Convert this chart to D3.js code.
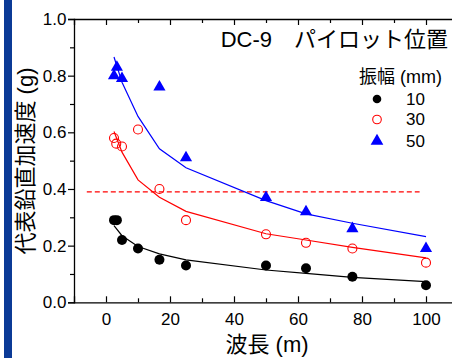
<!DOCTYPE html>
<html>
<head>
<meta charset="utf-8">
<script src="https://cdn.jsdelivr.net/npm/d3@7"></script>
<style>
  html, body { margin: 0; padding: 0; background: #fff; }
  svg { display: block; font-family: "Liberation Sans", Arial, "Noto Sans CJK JP", sans-serif; }
  .cjk { font-family: "Liberation Sans", Arial, "Noto Sans CJK JP", sans-serif; }
</style>
</head>
<body>
<svg id="chart"></svg>
<script>
// measured points (wavelength m, acceleration g)
const amp10X = [2.5, 3.4, 5, 10, 16.7, 25, 50, 62.5, 77, 100];
const amp10Y = [0.29, 0.29, 0.22, 0.19, 0.15, 0.13, 0.13, 0.12, 0.09, 0.06];
const amp30X = [2.5, 3.2, 5, 10, 16.7, 25, 50, 62.5, 77, 100];
const amp30Y = [0.58, 0.56, 0.55, 0.61, 0.40, 0.29, 0.24, 0.21, 0.19, 0.14];
const amp50X = [2.5, 3.4, 5, 16.7, 25, 50, 62.5, 77, 100];
const amp50Y = [0.80, 0.83, 0.79, 0.76, 0.51, 0.37, 0.32, 0.26, 0.19];

// fitted curves
const fitX = [2.5, 5, 10, 16.7, 25, 50, 62.5, 77, 100];
const fit10 = [0.271, 0.235, 0.197, 0.171, 0.15, 0.114, 0.102, 0.088, 0.073];
const fit30 = [0.603, 0.53, 0.432, 0.371, 0.321, 0.242, 0.22, 0.194, 0.157];
const fit50 = [0.866, 0.777, 0.656, 0.542, 0.475, 0.359, 0.312, 0.279, 0.232];

const limitY = 0.39;
const limitX = [-6, 98];

const amplitudes = ['10', '30', '50'];

const W = 452, H = 358;
const margin = { top: 19, left: 74, bottom: 56 };

const svg = d3.select('#chart').attr('width', W).attr('height', H);

// dark strip on the left edge
svg.append('rect').attr('x', 4).attr('y', 0).attr('width', 8).attr('height', H)
  .attr('fill', '#0b3a96');

const x = d3.scaleLinear().domain([-10, 110]).range([margin.left, 458]);
const y = d3.scaleLinear().domain([0, 1]).range([H - margin.bottom + 0.3, margin.top]);

const g = svg.append('g');

// axes
const majorX = d3.range(0, 101, 20);
const minorX = d3.range(10, 100, 20);
const majorY = d3.range(0, 1.01, 0.2);
const minorY = d3.range(0.1, 1, 0.2);

g.append('g').attr('transform', `translate(0,${y(0)})`)
  .call(d3.axisBottom(x).tickValues(majorX).tickSize(-6).tickPadding(11).tickFormat(d3.format('d')));
g.append('g').attr('transform', `translate(0,${y(0)})`)
  .call(d3.axisBottom(x).tickValues(minorX).tickSize(-4).tickFormat(''))
  .select('.domain').remove();

g.append('g').attr('transform', `translate(0,${y(1)})`)
  .call(d3.axisTop(x).tickValues(majorX).tickSize(-6).tickFormat(''));
g.append('g').attr('transform', `translate(0,${y(1)})`)
  .call(d3.axisTop(x).tickValues(minorX).tickSize(-4).tickFormat(''))
  .select('.domain').remove();

g.append('g').attr('transform', `translate(${x(-10)},0)`)
  .call(d3.axisLeft(y).tickValues(majorY).tickSize(6).tickPadding(1.5).tickFormat(d3.format('.1f')));
g.append('g').attr('transform', `translate(${x(-10)},0)`)
  .call(d3.axisLeft(y).tickValues(minorY).tickSize(4).tickFormat(''))
  .select('.domain').remove();

g.selectAll('.domain').attr('stroke', '#000').attr('stroke-width', 1.3);
g.selectAll('.tick line').attr('stroke', '#000').attr('stroke-width', 1.2);
g.selectAll('.tick text').attr('font-size', 17).attr('fill', '#000')
  .attr('font-family', '"Liberation Sans", Arial, sans-serif');

// axis titles
svg.append('text').attr('class', 'cjk')
  .attr('transform', `translate(33,161) rotate(-90)`)
  .attr('text-anchor', 'middle').attr('font-size', 22).attr('fill', '#000')
  .text('代表鉛直加速度 (g)');

svg.append('text').attr('class', 'cjk')
  .attr('x', 267).attr('y', 352)
  .attr('text-anchor', 'middle').attr('font-size', 22).attr('fill', '#000')
  .text('波長 (m)');

// reference line
svg.append('line')
  .attr('x1', x(limitX[0])).attr('x2', x(limitX[1]))
  .attr('y1', y(limitY)).attr('y2', y(limitY))
  .attr('stroke', '#ff0000').attr('stroke-width', 1.3).attr('stroke-dasharray', '5,3');

// fitted lines
const line = d3.line().x(d => x(d[0])).y(d => y(d[1]));
[[fit10, '#000'], [fit30, '#ff0000'], [fit50, '#0000ff']].forEach(([vals, col]) => {
  svg.append('path')
    .datum(fitX.map((v, i) => [v, vals[i]]))
    .attr('d', line)
    .attr('fill', 'none').attr('stroke', col).attr('stroke-width', 1.2);
});

// points
svg.append('g').selectAll('circle')
  .data(amp10X.map((v, i) => [v, amp10Y[i]]))
  .join('circle')
  .attr('cx', d => x(d[0])).attr('cy', d => y(d[1])).attr('r', 5)
  .attr('fill', '#000');

svg.append('g').selectAll('circle')
  .data(amp30X.map((v, i) => [v, amp30Y[i]]))
  .join('circle')
  .attr('cx', d => x(d[0])).attr('cy', d => y(d[1])).attr('r', 4.5)
  .attr('fill', 'none').attr('stroke', '#ff0000').attr('stroke-width', 1.1);

const tri = d3.symbol(d3.symbolTriangle, 64);
svg.append('g').selectAll('path')
  .data(amp50X.map((v, i) => [v, amp50Y[i]]))
  .join('path')
  .attr('transform', d => `translate(${x(d[0])},${y(d[1])})`)
  .attr('d', tri)
  .attr('fill', '#0000ff');

// title
svg.append('text').attr('class', 'cjk')
  .attr('x', 448).attr('y', 47).attr('text-anchor', 'end')
  .attr('font-size', 22).attr('fill', '#000')
  .text('DC-9　パイロット位置');

// legend
const legend = svg.append('g');
legend.append('text').attr('class', 'cjk')
  .attr('x', 442).attr('y', 83).attr('text-anchor', 'end')
  .attr('font-size', 18).attr('fill', '#000')
  .text('振幅 (mm)');

const legY = [99, 119.5, 141];
legend.append('circle').attr('cx', 377).attr('cy', legY[0]).attr('r', 4.3).attr('fill', '#000');
legend.append('circle').attr('cx', 377).attr('cy', legY[1]).attr('r', 4.3)
  .attr('fill', 'none').attr('stroke', '#ff0000').attr('stroke-width', 1.1);
legend.append('path').attr('transform', `translate(377,${legY[2]})`)
  .attr('d', d3.symbol(d3.symbolTriangle, 70)).attr('fill', '#0000ff');

legend.selectAll('text.lab')
  .data(amplitudes)
  .join('text').attr('class', 'lab')
  .attr('x', 406).attr('y', (d, i) => legY[i] + 5.5)
  .attr('font-size', 17).attr('fill', '#000')
  .attr('font-family', '"Liberation Sans", Arial, sans-serif')
  .text(d => d);
</script>
</body>
</html>
